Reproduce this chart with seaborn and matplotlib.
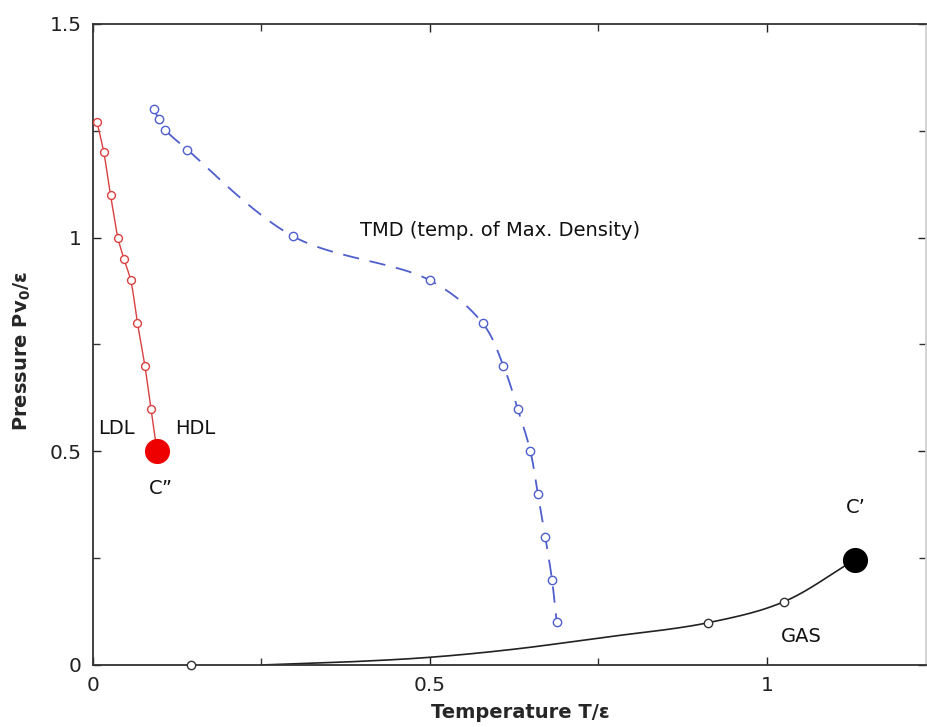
import numpy as np
import pandas as pd
import matplotlib
matplotlib.use("Agg")
import matplotlib.pyplot as plt
from matplotlib.ticker import MultipleLocator
import seaborn as sns

# ---- data ----
ldl_T = [0.006, 0.016, 0.026, 0.037, 0.046, 0.056, 0.066, 0.077, 0.086]
ldl_P = [1.27, 1.20, 1.10, 1.00, 0.95, 0.90, 0.80, 0.70, 0.60]
cpp_T = [0.095]          # C'' critical point
cpp_P = [0.50]

tmd_T = [0.09, 0.098, 0.107, 0.14, 0.297, 0.50, 0.578, 0.609, 0.630, 0.649, 0.660, 0.671, 0.681, 0.688]
tmd_P = [1.30, 1.278, 1.253, 1.206, 1.003, 0.90, 0.80, 0.70, 0.60, 0.50, 0.40, 0.30, 0.20, 0.10]

gas_mark_T = [0.145, 0.913, 1.025]
gas_mark_P = [0.0, 0.099, 0.148]
gas_line_T = [0.25, 0.375, 0.5, 0.625, 0.75, 0.913, 1.025, 1.13]
gas_line_P = [0.0, 0.007, 0.018, 0.037, 0.063, 0.099, 0.148, 0.246]
cp_T = [1.13]            # C' critical point
cp_P = [0.246]


def smooth(xs, ys, n=24, sx=674.0, sy=427.0):
    """Centripetal Catmull-Rom curve through the given points (rendering only)."""
    P = np.column_stack([np.asarray(xs, float) * sx, np.asarray(ys, float) * sy])
    P = np.vstack([2 * P[0] - P[1], P, 2 * P[-1] - P[-2]])
    out = []
    for i in range(1, len(P) - 2):
        p0, p1, p2, p3 = P[i - 1], P[i], P[i + 1], P[i + 2]
        d = lambda a, b: max(np.linalg.norm(b - a), 1e-6) ** 0.5
        t0 = 0.0
        t1 = t0 + d(p0, p1)
        t2 = t1 + d(p1, p2)
        t3 = t2 + d(p2, p3)
        t = np.linspace(t1, t2, n, endpoint=False)[:, None]
        A1 = (t1 - t) / (t1 - t0) * p0 + (t - t0) / (t1 - t0) * p1
        A2 = (t2 - t) / (t2 - t1) * p1 + (t - t1) / (t2 - t1) * p2
        A3 = (t3 - t) / (t3 - t2) * p2 + (t - t2) / (t3 - t2) * p3
        B1 = (t2 - t) / (t2 - t0) * A1 + (t - t0) / (t2 - t0) * A2
        B2 = (t3 - t) / (t3 - t1) * A2 + (t - t1) / (t3 - t1) * A3
        C = (t2 - t) / (t2 - t1) * B1 + (t - t1) / (t2 - t1) * B2
        out.append(C)
    out.append(P[-2][None, :])
    C = np.vstack(out)
    return pd.DataFrame({'T': C[:, 0] / sx, 'P': C[:, 1] / sy})


sns.set_theme(style="ticks")
plt.rcParams['font.family'] = ['DejaVu Sans']
plt.rcParams['mathtext.fontset'] = 'dejavusans'

fig = plt.figure(figsize=(9.27, 7.27), dpi=100)
ax = fig.add_axes([0.1003, 0.0853, 0.8987, 0.8817])

red = '#d9403f'
blue = '#4f5fcc'

sns.lineplot(data=smooth(ldl_T + cpp_T, ldl_P + cpp_P), x='T', y='P', sort=False,
             estimator=None, color=red, lw=1.0, ax=ax)
sns.scatterplot(x=ldl_T, y=ldl_P, ax=ax, marker='o', s=32, facecolor='white',
                edgecolor=red, linewidth=1.0, zorder=3)
sns.scatterplot(x=cpp_T, y=cpp_P, ax=ax, marker='o', s=280, color='#ee0000',
                edgecolor='#ee0000', zorder=4)

sns.lineplot(data=smooth(tmd_T, tmd_P), x='T', y='P', sort=False, estimator=None,
             color=blue, lw=1.3, ax=ax, linestyle=(0, (9, 6)))
sns.scatterplot(x=tmd_T, y=tmd_P, ax=ax, marker='o', s=36, facecolor='white',
                edgecolor=blue, linewidth=1.0, zorder=3)

sns.lineplot(data=smooth(gas_line_T, gas_line_P), x='T', y='P', sort=False, estimator=None,
             color='#222222', lw=1.2, ax=ax)
sns.scatterplot(x=gas_mark_T, y=gas_mark_P, ax=ax, marker='o', s=36, facecolor='white',
                edgecolor='#333333', linewidth=1.0, zorder=3, clip_on=False)
sns.scatterplot(x=cp_T, y=cp_P, ax=ax, marker='o', s=280, color='black',
                edgecolor='black', zorder=4)

ax.set_xlim(0, 1.236)
ax.set_ylim(0, 1.5)
ax.xaxis.set_minor_locator(MultipleLocator(0.25))
ax.yaxis.set_minor_locator(MultipleLocator(0.25))
ax.set_xticks([0, 0.5, 1])
ax.set_xticklabels(['0', '0.5', '1'])
ax.set_yticks([0, 0.5, 1, 1.5])
ax.set_yticklabels(['0', '0.5', '1', '1.5'])
ax.tick_params(which='both', direction='in', top=True, right=True, color='#333333')
ax.tick_params(which='major', length=6, width=1, labelsize=14.5, pad=8, colors='#222222')
ax.tick_params(which='minor', length=5, width=1)
for s in ax.spines.values():
    s.set_color('#333333')
    s.set_linewidth(1.3)
ax.spines['right'].set_color('#d0d0d0')

ax.set_xlabel('Temperature T/ε', fontsize=14, fontweight='bold')
ax.set_ylabel(r'Pressure Pv$_\mathbf{0}$/ε', fontsize=14, fontweight='bold')
ax.xaxis.set_label_coords(0.513, -0.060)
ax.yaxis.set_label_coords(-0.072, 0.49)

tk = dict(fontsize=14, color='#111111')
ax.text(0.396, 1.017, 'TMD (temp. of Max. Density)', ha='left', va='center', **tk)
ax.text(0.007, 0.554, 'LDL', ha='left', va='center', **tk)
ax.text(0.122, 0.554, 'HDL', ha='left', va='center', **tk)
ax.text(0.101, 0.414, 'C\u201d', ha='center', va='center', **tk)
ax.text(1.132, 0.368, 'C\u2019', ha='center', va='center', **tk)
ax.text(1.021, 0.066, 'GAS', ha='left', va='center', **tk)

fig.savefig('out.png', dpi=100)
